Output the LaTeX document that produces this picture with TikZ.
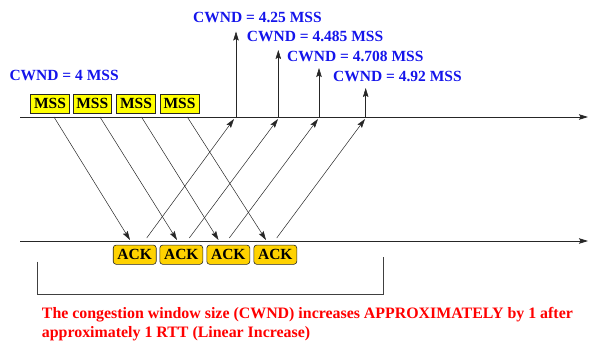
\documentclass[tikz,border=0pt]{standalone}
\usepackage{fontspec}
\setmainfont{Liberation Serif}
\usetikzlibrary{arrows.meta}
\definecolor{cwblue}{RGB}{20,20,235}
\definecolor{ackgold}{RGB}{255,210,0}
\definecolor{mssyellow}{RGB}{255,255,0}
\definecolor{notered}{RGB}{255,0,0}
\begin{document}
\begin{tikzpicture}[x=1pt,y=-1pt,
  bigfont/.style={font=\fontsize{15.5}{19}\selectfont\bfseries},
  lbl/.style={bigfont, text=cwblue, inner sep=0pt, anchor=base west},
  mssbox/.style={draw=black!85, fill=mssyellow, line width=0.6pt, minimum width=38.7pt, minimum height=19pt, inner sep=0pt, bigfont},
  ackbox/.style={draw=black!85, fill=ackgold, line width=0.6pt, rounded corners=3pt, minimum width=43pt, minimum height=19.3pt, inner sep=0pt, bigfont},
  tiphead/.style={-{Stealth[length=9pt,width=5.5pt,inset=1.5pt]}},
  axis/.style={line width=0.8pt, black!85, tiphead},
  msg/.style={line width=0.5pt, black!85, tiphead},
  note/.style={font=\fontsize{15.9}{19}\selectfont\bfseries, text=notered, inner sep=0pt, anchor=base west}
]
\useasboundingbox (0,0) rectangle (589,342);

% time lines
\coordinate (tA) at (20,117);
\coordinate (tB) at (588,117);
\coordinate (bA) at (20,241);
\coordinate (bB) at (588,241);
\draw[axis] (tA) -- (tB);
\draw[axis] (bA) -- (bB);

% MSS boxes
\node[mssbox] (m1) at (50,103.5) {MSS};
\node[mssbox] (m2) at (92.3,103.5) {MSS};
\node[mssbox] (m3) at (136,103.5) {MSS};
\node[mssbox] (m4) at (179.5,103.5) {MSS};

% ACK boxes
\node[ackbox] (a1) at (134.7,254.7) {ACK};
\node[ackbox] (a2) at (181.3,254.7) {ACK};
\node[ackbox] (a3) at (228.3,254.7) {ACK};
\node[ackbox] (a4) at (275.3,254.7) {ACK};

% segment start / end points
\coordinate (s1) at (54,117);
\coordinate (s2) at (100,117);
\coordinate (s3) at (141.5,117);
\coordinate (s4) at (187.3,117);
\coordinate (e1) at (130,240);
\coordinate (e2) at (177,240);
\coordinate (e3) at (218.5,240);
\coordinate (e4) at (266,240);
\draw[msg] (s1) -- (e1);
\draw[msg] (s2) -- (e2);
\draw[msg] (s3) -- (e3);
\draw[msg] (s4) -- (e4);

% ACK start / end points
\coordinate (k1) at (146.7,238);
\coordinate (k2) at (189.3,238);
\coordinate (k3) at (229.3,238);
\coordinate (k4) at (276.7,238);
\coordinate (r1) at (234,119);
\coordinate (r2) at (278,119);
\coordinate (r3) at (318,119);
\coordinate (r4) at (365,119);
\draw[msg] (k1) -- (r1);
\draw[msg] (k2) -- (r2);
\draw[msg] (k3) -- (r3);
\draw[msg] (k4) -- (r4);

% vertical window arrows
\coordinate (v1) at (236,117);
\coordinate (v2) at (278.3,117);
\coordinate (v3) at (319,117);
\coordinate (v4) at (365.7,117);
\coordinate (w1) at (236,31.5);
\coordinate (w2) at (278.3,50);
\coordinate (w3) at (319,68);
\coordinate (w4) at (365.7,88);
\draw[msg] (v1) -- (w1);
\draw[msg] (v2) -- (w2);
\draw[msg] (v3) -- (w3);
\draw[msg] (v4) -- (w4);

% labels
\node[lbl] (c0) at (9.3,81) {CWND = 4 MSS};
\node[lbl] (c1) at (193,22.5) {CWND = 4.25 MSS};
\node[lbl] (c2) at (246.7,42) {CWND = 4.485 MSS};
\node[lbl] (c3) at (287,62) {CWND = 4.708 MSS};
\node[lbl] (c4) at (333,81.5) {CWND = 4.92 MSS};

% bracket
\coordinate (g1) at (37.3,261.7);
\coordinate (g2) at (37.3,294.5);
\coordinate (g3) at (383.3,294.5);
\coordinate (g4) at (383.3,256.7);
\draw[line width=0.8pt, black!75] (g1) -- (g2) -- (g3) -- (g4);

% note
\node[note] (nt1) at (41.7,318) {The congestion window size (CWND) increases APPROXIMATELY by 1 after};
\node[note] (nt2) at (41.7,337) {approximately 1 RTT (Linear Increase)};
\end{tikzpicture}
\end{document}
